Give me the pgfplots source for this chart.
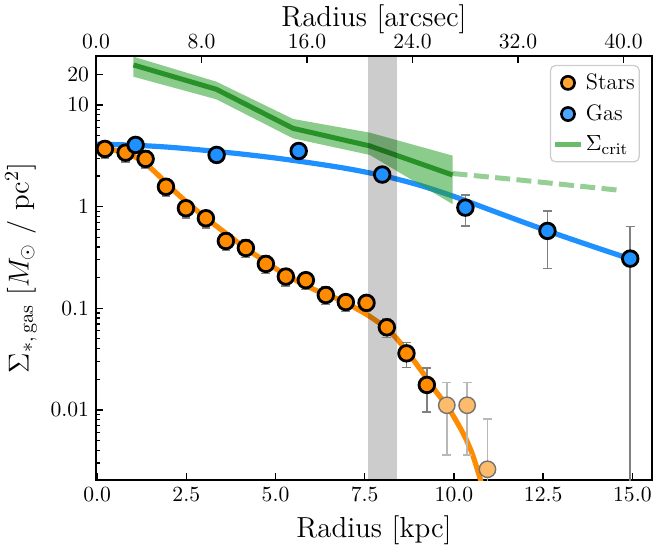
\documentclass[border=0pt]{standalone}
\usepackage{pgfplots}
\pgfplotsset{compat=1.18}
\usepackage{pgfplotstable}
\definecolor{sorange}{RGB}{255,140,0}
\definecolor{gblue}{RGB}{30,144,255}
\definecolor{tgreen}{RGB}{44,160,44}
\definecolor{dgreen}{RGB}{40,146,40}
\definecolor{faintorange}{RGB}{252,188,108}
\pgfplotsset{
  legmark/.style={legend image code/.code={\draw[##1] plot coordinates {(6.5pt,0pt)};}},
  legline/.style={legend image code/.code={\draw[##1] (0pt,0pt) -- (13pt,0pt);}},
}
\pgfplotstableread{
x y ep em
0.22 3.70 0.70 0.70
0.80 3.40 0.64 0.64
1.36 2.95 0.56 0.56
1.93 1.57 0.30 0.30
2.49 0.965 0.19 0.19
3.05 0.769 0.15 0.15
3.61 0.459 0.09 0.09
4.17 0.392 0.076 0.076
4.73 0.273 0.053 0.053
5.29 0.205 0.04 0.04
5.85 0.189 0.036 0.036
6.41 0.135 0.026 0.026
6.97 0.115 0.022 0.022
7.55 0.113 0.020 0.020
8.12 0.065 0.0135 0.0135
8.67 0.036 0.010 0.010
9.24 0.0176 0.0081 0.0081
}\stars
\pgfplotstableread{
x y ep em
9.80 0.0111 0.0075 0.0075
10.37 0.0111 0.0075 0.0075
10.94 0.0026 0.0055 0.0025
}\starsfaint
\pgfplotstableread{
x y ep em
1.08 4.05 0.33 0.33
3.35 3.23 0.33 0.33
5.65 3.53 0.33 0.33
7.99 2.07 0.33 0.33
10.32 0.978 0.33 0.33
12.62 0.577 0.33 0.33
14.94 0.308 0.33 0.3075
}\gas
\begin{document}
\begin{tikzpicture}
\path[use as bounding box] (-48pt,-35pt) rectangle (280pt,240pt);
\begin{axis}[
  at={(0pt,0pt)}, anchor=south west,
  scale only axis, width=278pt, height=212pt,
  xmin=-0.03, xmax=15.55,
  ymode=log, ymin=0.00204, ymax=30.4,
  axis line style={line width=1.4pt},
  tick align=inside,
  xtick pos=left, ytick pos=left,
  xtick={0,2.5,5,7.5,10,12.5,15},
  xticklabels={0.0,2.5,5.0,7.5,10.0,12.5,15.0},
  ytick={0.01,0.1,1,10,20},
  yticklabels={0.01,0.1,1,10,20},
  minor ytick={0.003,0.004,0.005,0.006,0.007,0.008,0.009,0.02,0.03,0.04,0.05,0.06,0.07,0.08,0.09,0.2,0.3,0.4,0.5,0.6,0.7,0.8,0.9,2,3,4,5,6,7,8,9},
  major tick length=3.6pt, minor tick length=2pt,
  major tick style={line width=0.75pt, black},
  minor tick style={line width=0.6pt, black},
  ticklabel style={font=\fontsize{10.8}{12}\selectfont},
  label style={font=\fontsize{14.5}{17}\selectfont},
  xlabel={Radius [kpc]},
  ylabel={$\Sigma_{*,\,\mathrm{gas}}\ [M_\odot\ /\ \mathrm{pc}^2]$},
  legend style={at={(0.978,0.979)}, anchor=north east, draw=black!20, line width=0.6pt,
    rounded corners=2.5pt, fill=white, fill opacity=0.8, text opacity=1,
    font=\fontsize{11.2}{13.5}\selectfont, inner xsep=1pt, inner ysep=2.5pt, row sep=3.2pt,
    nodes={inner xsep=1.2pt, inner ysep=1.5pt}},
  legend cell align=left,
]
% fitted curves
\addplot[gblue, line width=2.6pt, smooth, forget plot] coordinates {
(0,4.12) (1,4.03) (2,3.85) (3,3.59) (4,3.31) (5,3.01) (6,2.69) (7,2.37) (8,2.02)
(9,1.64) (10,1.26) (11,0.933) (12,0.692) (13,0.519) (14,0.394) (14.95,0.305)};
\addplot[sorange, line width=2.6pt, smooth, forget plot] coordinates {
(0.0,3.89) (0.3,3.76) (0.6,3.51) (0.9,3.31) (1.2,2.88) (1.5,2.40) (1.8,1.91) (2.1,1.50)
(2.4,1.20) (2.7,0.977) (3.0,0.794) (3.3,0.661) (3.6,0.550) (3.9,0.457) (4.2,0.380)
(4.5,0.324) (4.8,0.275) (5.1,0.234) (5.4,0.204) (5.7,0.178) (6.0,0.158) (6.3,0.141)
(6.6,0.129) (6.97,0.115) (7.25,0.100) (7.55,0.0871) (7.85,0.0741) (8.12,0.0631)
(8.4,0.0501) (8.67,0.0380) (8.95,0.0282) (9.24,0.0204) (9.5,0.0151) (9.80,0.0110)
(10.05,0.00794) (10.3,0.00550) (10.5,0.00380) (10.65,0.00263) (10.75,0.00200) (10.8,0.00158)};
% Sigma crit band and line
\addplot[fill=tgreen, fill opacity=0.55, draw=none, forget plot] coordinates {
(1.02,29.9) (3.34,17.0) (5.49,7.3) (7.64,5.35) (9.96,3.18)
(9.96,1.06) (7.64,3.23) (5.49,4.7) (3.34,11.4) (1.02,19.0)} -- cycle;
\addplot[dgreen, line width=2.5pt, forget plot] coordinates {
(1.02,24.8) (3.34,14.3) (5.49,5.9) (7.64,3.96) (9.96,2.05)};
\addplot[tgreen, opacity=0.5, line width=2.5pt, dash pattern=on 7.5pt off 3.2pt, forget plot] coordinates {
(9.96,2.12) (11.84,1.83) (14.72,1.44)};
% grey band
\addplot[fill=black, fill opacity=0.2, draw=none, forget plot] coordinates {
(7.6,0.001) (8.4,0.001) (8.4,100) (7.6,100)} -- cycle;
% error bars
\addplot[only marks, mark=none, forget plot,
  error bars/.cd, y dir=both, y explicit, error mark=-,
  error bar style={draw=gray, line width=0.75pt},
  error mark options={draw=gray, line width=0.75pt, mark size=2.2pt, rotate=90}]
  table[x=x, y=y, y error plus=ep, y error minus=em] {\stars};
\addplot[only marks, mark=none, forget plot,
  error bars/.cd, y dir=both, y explicit, error mark=-,
  error bar style={draw=black!28, line width=0.75pt},
  error mark options={draw=black!28, line width=0.75pt, mark size=2.2pt, rotate=90}]
  table[x=x, y=y, y error plus=ep, y error minus=em] {\starsfaint};
\addplot[only marks, mark=none, forget plot,
  error bars/.cd, y dir=both, y explicit, error mark=-,
  error bar style={draw=gray, line width=0.75pt},
  error mark options={draw=gray, line width=0.75pt, mark size=2.2pt, rotate=90}]
  table[x=x, y=y, y error plus=ep, y error minus=em] {\gas};
% markers
\addplot[only marks, mark=*, mark size=3.9pt, forget plot,
  mark options={fill=sorange, draw=black, line width=1.4pt}] table[x=x,y=y] {\stars};
\addplot[only marks, mark=*, mark size=4.1pt, forget plot,
  mark options={fill=faintorange, draw=black!55, line width=0.7pt}] table[x=x,y=y] {\starsfaint};
\addplot[only marks, mark=*, mark size=3.9pt, forget plot,
  mark options={fill=gblue, draw=black, line width=1.4pt}] table[x=x,y=y] {\gas};
% legend
\addlegendimage{only marks, mark=*, mark size=3.3pt, mark options={fill=sorange, draw=black, line width=1.3pt}, legmark}
\addlegendentry{Stars}
\addlegendimage{only marks, mark=*, mark size=3.3pt, mark options={fill=gblue, draw=black, line width=1.3pt}, legmark}
\addlegendentry{Gas}
\addlegendimage{tgreen, opacity=0.7, line width=2.5pt, legline}
\addlegendentry{$\Sigma_{\mathrm{crit}}$}
\end{axis}
\begin{axis}[
  at={(0pt,0pt)}, anchor=south west,
  scale only axis, width=278pt, height=212pt,
  xmin=0, xmax=42.16, ymin=0, ymax=1,
  axis x line*=top, axis y line=none,
  x axis line style={line width=1.4pt, -},
  tick align=inside,
  xtick={0,8,16,24,32,40}, xticklabels={0.0,8.0,16.0,24.0,32.0,40.0},
  major tick length=3.6pt,
  major tick style={line width=0.75pt, black},
  ticklabel style={font=\fontsize{10.8}{12}\selectfont},
  label style={font=\fontsize{14.5}{17}\selectfont},
  xlabel={Radius [arcsec]},
  xlabel style={yshift=-7pt},
]
\addplot[draw=none] coordinates {(1,0.5)};
\end{axis}
\end{tikzpicture}
\end{document}
